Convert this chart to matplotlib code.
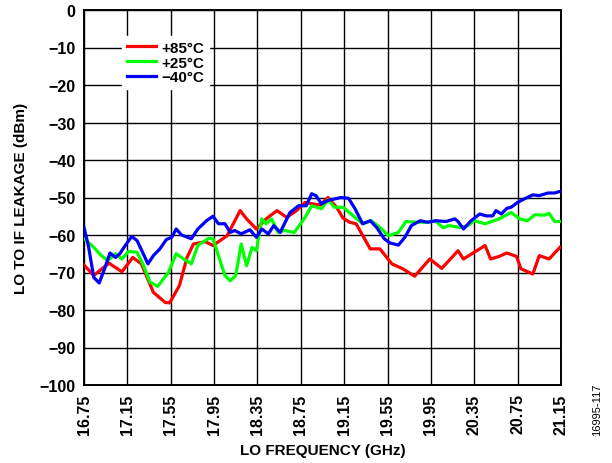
import matplotlib
matplotlib.use("Agg")
import matplotlib.pyplot as plt

plt.rcParams['font.family'] = ['Liberation Sans', 'DejaVu Sans']
plt.rcParams['font.weight'] = 'bold'

# +85°C
red_f = [16.75, 16.84, 16.98, 17.10, 17.20, 17.28, 17.39, 17.50, 17.54, 17.63, 17.70, 17.76,
         17.87, 17.94, 18.07, 18.19, 18.25, 18.34, 18.43, 18.53, 18.62, 18.71, 18.79, 18.86,
         18.93, 19.00, 19.08, 19.14, 19.20, 19.26, 19.39, 19.48, 19.59, 19.69, 19.80, 19.94,
         20.05, 20.20, 20.25, 20.45, 20.50, 20.58, 20.65, 20.74, 20.78, 20.89, 20.95, 21.04, 21.14]
red_v = [-68.0, -70.8, -67.5, -69.8, -66.0, -67.7, -75.3, -78.0, -78.1, -73.5, -66.0, -62.4,
         -61.8, -62.8, -60.2, -53.5, -55.7, -58.4, -55.7, -53.5, -55.3, -53.5, -51.3, -51.7,
         -52.0, -50.0, -52.6, -55.5, -56.6, -57.0, -63.7, -63.7, -67.7, -69.0, -71.0, -66.4,
         -68.9, -64.2, -66.4, -62.8, -66.4, -65.7, -64.8, -65.7, -69.0, -70.4, -65.5, -66.4, -63.3]

# +25°C
green_f = [16.75, 16.84, 16.91, 16.97, 17.04, 17.10, 17.16, 17.24, 17.30, 17.36, 17.43, 17.53,
           17.60, 17.67, 17.74, 17.80, 17.90, 17.94, 17.99, 18.05, 18.10, 18.15, 18.20, 18.25,
           18.30, 18.34, 18.39, 18.43, 18.48, 18.54, 18.60, 18.69, 18.79, 18.85, 18.94, 19.00,
           19.06, 19.14, 19.23, 19.32, 19.40, 19.48, 19.56, 19.65, 19.72, 19.82, 19.91, 19.99,
           20.06, 20.12, 20.22, 20.29, 20.35, 20.45, 20.58, 20.69, 20.77, 20.84, 20.91, 21.00,
           21.04, 21.09, 21.14]
green_v = [-61.0, -63.3, -65.5, -66.8, -65.0, -66.4, -64.4, -64.6, -68.2, -72.6, -73.7, -69.9,
           -65.0, -66.4, -67.7, -62.8, -60.9, -61.0, -65.5, -70.8, -72.2, -70.8, -62.4, -68.2,
           -63.3, -64.2, -55.7, -57.0, -55.7, -59.3, -58.8, -59.3, -55.3, -52.2, -53.0, -50.6,
           -52.6, -52.6, -54.8, -57.0, -56.2, -58.0, -60.2, -59.3, -56.4, -56.6, -56.6, -56.2,
           -58.0, -57.5, -58.0, -57.5, -56.2, -57.0, -55.7, -54.0, -55.7, -56.2, -54.6, -54.7,
           -54.2, -56.4, -56.4]

# -40°C
blue_f = [16.75, 16.79, 16.84, 16.89, 16.94, 16.99, 17.04, 17.08, 17.14, 17.19, 17.24, 17.29,
          17.34, 17.39, 17.45, 17.51, 17.56, 17.60, 17.65, 17.74, 17.80, 17.88, 17.94, 17.99,
          18.05, 18.10, 18.14, 18.20, 18.28, 18.34, 18.39, 18.45, 18.50, 18.56, 18.65, 18.73,
          18.80, 18.85, 18.89, 18.94, 19.00, 19.06, 19.12, 19.19, 19.25, 19.32, 19.39, 19.45,
          19.52, 19.57, 19.65, 19.71, 19.77, 19.85, 19.92, 20.00, 20.09, 20.17, 20.20, 20.25,
          20.32, 20.40, 20.46, 20.52, 20.55, 20.60, 20.65, 20.69, 20.75, 20.81, 20.89, 20.95,
          21.03, 21.09, 21.14]
blue_v = [-58.0, -62.8, -71.3, -72.8, -69.0, -64.8, -66.0, -65.0, -62.4, -60.4, -61.5, -64.6,
          -67.7, -65.5, -63.7, -61.2, -60.6, -58.4, -60.0, -61.0, -58.4, -56.2, -55.0, -57.0,
          -57.0, -59.3, -58.8, -59.7, -58.6, -60.6, -58.4, -59.7, -57.5, -59.3, -54.0, -52.2,
          -52.2, -49.0, -49.5, -51.7, -50.8, -50.4, -50.0, -50.2, -53.0, -57.0, -56.2, -58.0,
          -61.0, -62.1, -62.7, -60.6, -57.5, -56.2, -56.6, -56.2, -56.4, -55.7, -56.4, -58.4,
          -56.2, -54.4, -54.9, -54.9, -53.5, -54.4, -52.9, -52.6, -51.3, -50.4, -49.3, -49.5,
          -48.8, -48.8, -48.4]

x_ticks = [16.75, 17.15, 17.55, 17.95, 18.35, 18.75, 19.15, 19.55, 19.95, 20.35, 20.75, 21.15]
y_ticks = [0, -10, -20, -30, -40, -50, -60, -70, -80, -90, -100]

fig = plt.figure(figsize=(6.12, 4.64), dpi=100)
ax = fig.add_axes([84/612, 1-386/464, (561-84)/612, (386-11)/464])

lw = 2.3
ax.plot(red_f, red_v, color='#ff0000', lw=lw, label='+85°C', zorder=3)
ax.plot(green_f, green_v, color='#00ff00', lw=lw, label='+25°C', zorder=3)
ax.plot(blue_f, blue_v, color='#0000ff', lw=lw, label='\u221240°C', zorder=3)

ax.set_xlim(16.75, 21.15)
ax.set_ylim(-100, 0)
ax.set_xticks(x_ticks)
ax.set_yticks(y_ticks)
ax.set_xticklabels([f"{t:.2f}" for t in x_ticks], rotation=90, fontsize=11.5, fontweight='bold')
ax.set_yticklabels([str(t).replace('-', '\u2212') for t in y_ticks], fontsize=11.5, fontweight='bold')
ax.tick_params(length=0, pad=6)
ax.grid(True, color='black', lw=1.0)
ax.set_axisbelow(True)
for s in ax.spines.values():
    s.set_linewidth(1.4)

ax.set_xlabel('LO FREQUENCY (GHz)', fontsize=11, fontweight='bold', labelpad=7)
ax.set_ylabel('LO TO IF LEAKAGE (dBm)', fontsize=11, fontweight='bold', labelpad=8)

leg = ax.legend(loc='upper left', bbox_to_anchor=(0.08, 0.93), frameon=True,
                fancybox=False, edgecolor='white', facecolor='white', framealpha=1,
                prop={'size': 11, 'weight': 'bold'}, handlelength=1.9,
                handletextpad=0.35, labelspacing=0.05, borderpad=0.3, borderaxespad=0)

fig.text(597/612, 1-410/464, '16995-117', rotation=90, fontsize=8, fontweight='normal',
         ha='center', va='center')

fig.savefig('out.png', dpi=100)
